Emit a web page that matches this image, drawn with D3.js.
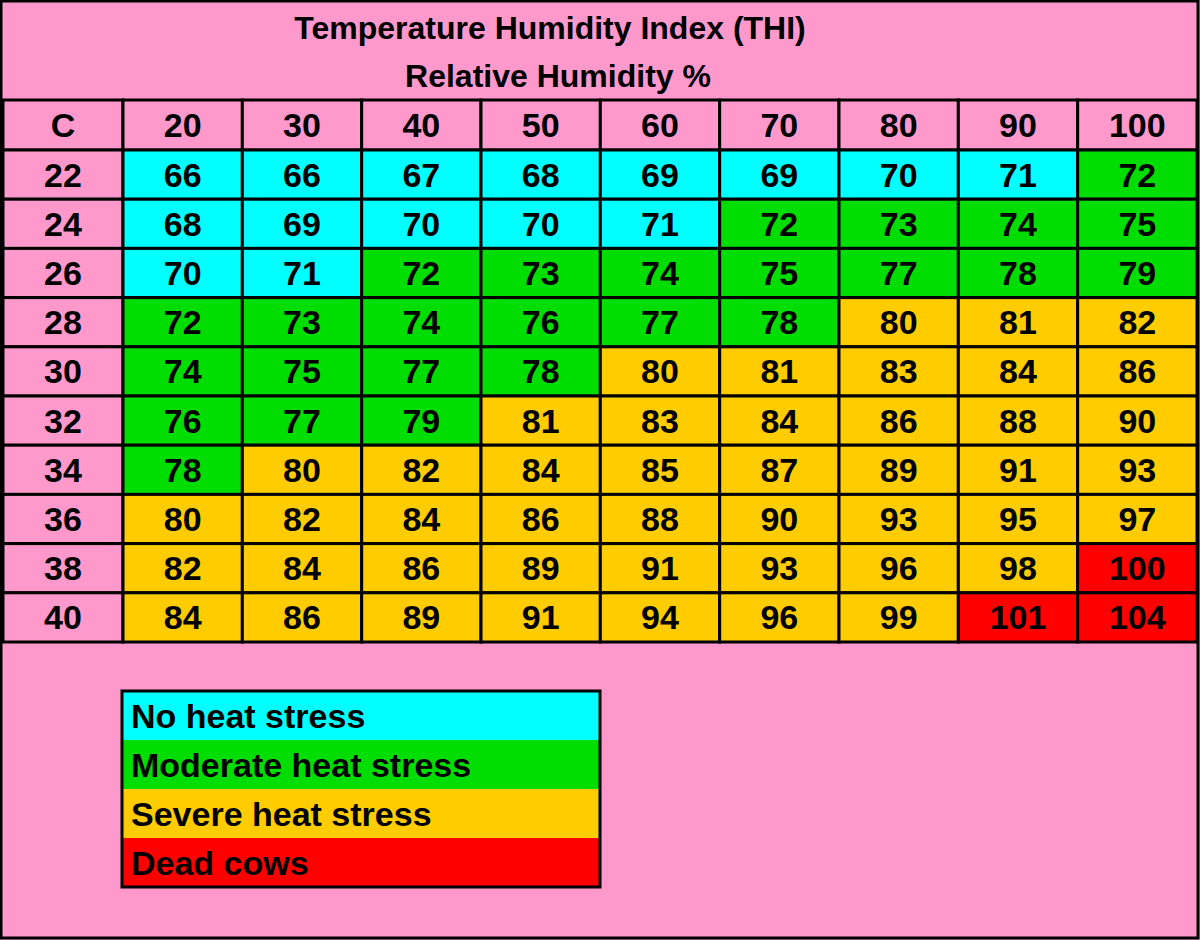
<!DOCTYPE html>
<html><head><meta charset="utf-8">
<script src="https://cdn.jsdelivr.net/npm/d3@7"></script>
<style>body{margin:0;background:#FF99CC;}svg{display:block;font-family:"Liberation Sans",Arial,sans-serif;font-weight:bold;}</style>
</head><body><svg id="c" width="1200" height="940"></svg>
<script>
const humidity = [20,30,40,50,60,70,80,90,100];
const tempsC = [22,24,26,28,30,32,34,36,38,40];
const thi = [
 [66,66,67,68,69,69,70,71,72],
 [68,69,70,70,71,72,73,74,75],
 [70,71,72,73,74,75,77,78,79],
 [72,73,74,76,77,78,80,81,82],
 [74,75,77,78,80,81,83,84,86],
 [76,77,79,81,83,84,86,88,90],
 [78,80,82,84,85,87,89,91,93],
 [80,82,84,86,88,90,93,95,97],
 [82,84,86,89,91,93,96,98,100],
 [84,86,89,91,94,96,99,101,104]
];
const legendLabels = ["No heat stress","Moderate heat stress","Severe heat stress","Dead cows"];
const colors = ["#00FFFF","#00DD00","#FFCC00","#FF0000"];
const thresholds = [72,80,100];

const svg = d3.select("#c");
const pink = "#FF99CC";
const color = d3.scaleThreshold().domain(thresholds).range(colors);
svg.append("rect").attr("x",1).attr("y",1).attr("width",1197).attr("height",937).attr("fill",pink).attr("stroke","#000").attr("stroke-width",3);
svg.append("text").attr("x",550).attr("y",39).attr("text-anchor","middle").attr("font-size",32).text("Temperature Humidity Index (THI)");
svg.append("text").attr("x",558).attr("y",87).attr("text-anchor","middle").attr("font-size",32).text("Relative Humidity %");

const x = d3.scaleBand().domain(humidity).range([123,1197]);
const y = d3.scaleBand().domain(tempsC).range([150,642]);
const g = svg.append("g").attr("stroke","#000").attr("stroke-width",3);
const fs = 34;
// header row
g.append("rect").attr("x",3).attr("y",100).attr("width",120).attr("height",50).attr("fill",pink);
svg.append("text").attr("x",63).attr("y",137).attr("text-anchor","middle").attr("font-size",fs).text("C");
humidity.forEach(h=>{
  g.append("rect").attr("x",x(h)).attr("y",100).attr("width",x.bandwidth()).attr("height",50).attr("fill",pink);
  svg.append("text").attr("x",x(h)+x.bandwidth()/2).attr("y",137).attr("text-anchor","middle").attr("font-size",fs).text(h);
});
tempsC.forEach((t,i)=>{
  g.append("rect").attr("x",3).attr("y",y(t)).attr("width",120).attr("height",y.bandwidth()).attr("fill",pink);
  svg.append("text").attr("x",63).attr("y",y(t)+y.bandwidth()/2+12).attr("text-anchor","middle").attr("font-size",fs).text(t);
  humidity.forEach((h,j)=>{
    const v=thi[i][j];
    g.append("rect").attr("x",x(h)).attr("y",y(t)).attr("width",x.bandwidth()).attr("height",y.bandwidth()).attr("fill",color(v));
    svg.append("text").attr("x",x(h)+x.bandwidth()/2).attr("y",y(t)+y.bandwidth()/2+12).attr("text-anchor","middle").attr("font-size",fs).text(v);
  });
});
// legend
const ly = d3.scaleBand().domain(legendLabels).range([691,887]);
legendLabels.forEach((l,i)=>{
  svg.append("rect").attr("x",122).attr("y",ly(l)).attr("width",478).attr("height",ly.bandwidth()).attr("fill",colors[i]);
  svg.append("text").attr("x",131).attr("y",ly(l)+ly.bandwidth()/2+12).attr("font-size",34).text(l);
});
svg.append("rect").attr("x",122).attr("y",691).attr("width",478).attr("height",196).attr("fill","none").attr("stroke","#000").attr("stroke-width",3);
</script></body></html>
